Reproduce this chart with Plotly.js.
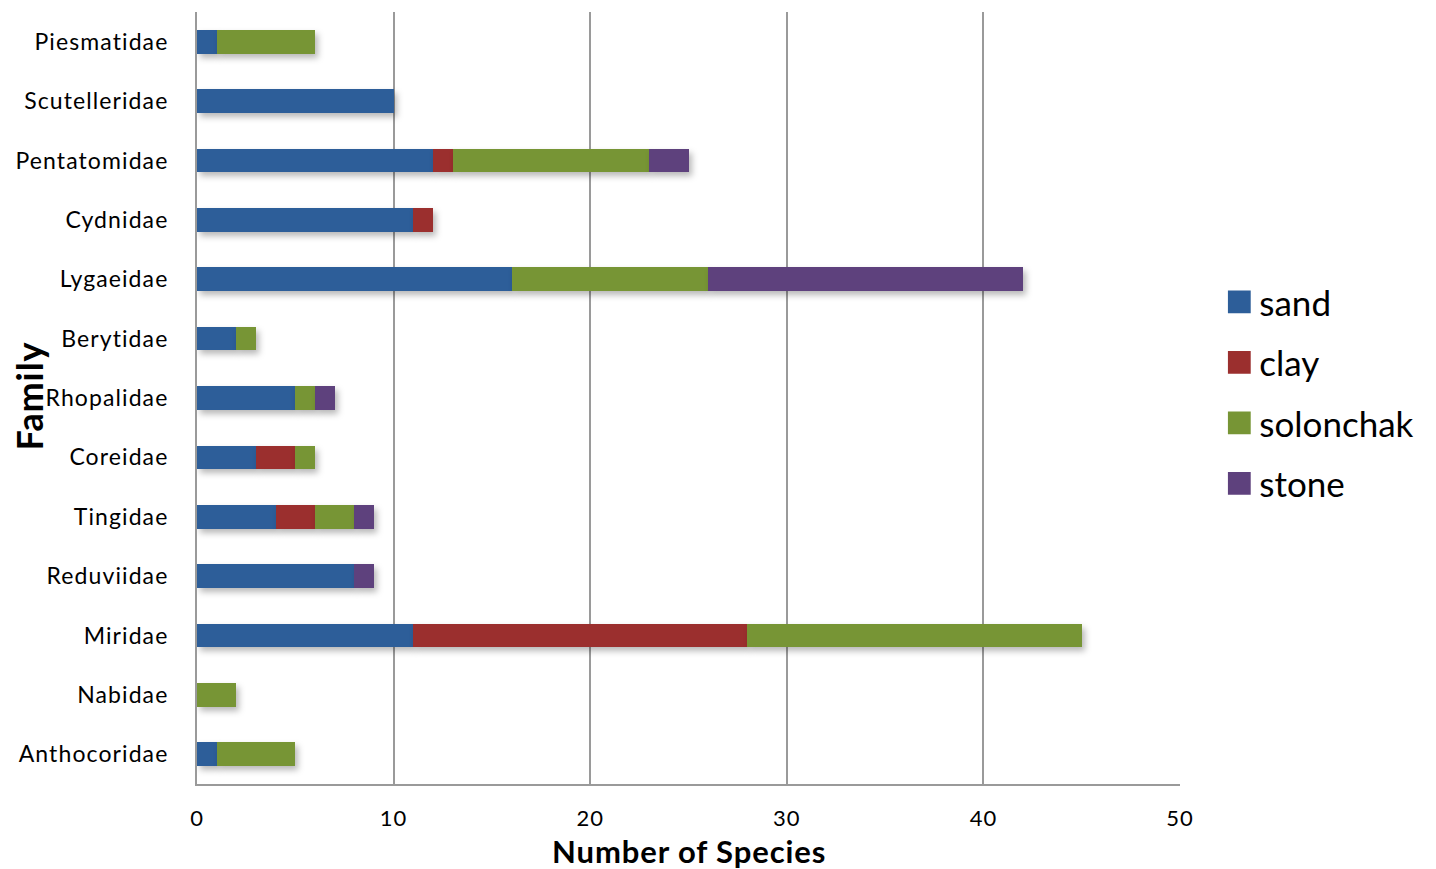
<!DOCTYPE html>
<html>
<head>
<meta charset="utf-8">
<script src="https://cdn.plot.ly/plotly-3.0.1.min.js"></script>
<style>
  html, body { margin: 0; padding: 0; background: #fff; }
  #chart { width: 1436px; height: 869px; }
  .barlayer .point path { filter: drop-shadow(3px 4px 3px rgba(0,0,0,0.28)); }
  .ytick text { letter-spacing: 1.1px; }
  .xtick text { letter-spacing: 1px; }
  .annotation-text { letter-spacing: 0.9px; }
</style>
</head>
<body>
<div id="chart"></div>
<script>
// Heteroptera families, listed top to bottom
const families = ["Piesmatidae", "Scutelleridae", "Pentatomidae", "Cydnidae", "Lygaeidae",
  "Berytidae", "Rhopalidae", "Coreidae", "Tingidae", "Reduviidae", "Miridae", "Nabidae", "Anthocoridae"];

// Number of species per soil type
const sand      = [1, 10, 12, 11, 16, 2, 5, 3, 4, 8, 11, 0, 1];
const clay      = [0, 0, 1, 1, 0, 0, 0, 2, 2, 0, 17, 0, 0];
const solonchak = [5, 0, 10, 0, 10, 1, 1, 1, 2, 0, 17, 2, 4];
const stone     = [0, 0, 2, 0, 16, 0, 1, 0, 1, 1, 0, 0, 0];

const xTicks = [0, 10, 20, 30, 40, 50];

const FONT = "Lato, 'Open Sans', sans-serif";

function series(name, values, color) {
  return {
    type: "bar", orientation: "h", name: name, legendgroup: name,
    y: families, x: values,
    marker: { color: color, line: { width: 0 } },
    hoverinfo: "name+x"
  };
}

const data = [
  series("sand", sand, "#2D5E99"),
  series("clay", clay, "#9B2F2E"),
  series("solonchak", solonchak, "#779535"),
  series("stone", stone, "#5E417D")
];

const layout = {
  width: 1436, height: 869,
  margin: { l: 197, r: 256, t: 12, b: 85, pad: 0 },
  paper_bgcolor: "#fff", plot_bgcolor: "#fff",
  barmode: "stack", bargap: 0.6,
  font: { family: FONT, color: "#000" },
  xaxis: {
    range: [0, 50], tickvals: xTicks, ticktext: xTicks.map(String),
    showgrid: true, gridcolor: "#9a9a9a", gridwidth: 2,
    showline: true, linecolor: "#9a9a9a", linewidth: 2, mirror: false,
    zeroline: false, ticks: "", ticklabelstandoff: 14,
    tickfont: { size: 22, family: FONT, color: "#000" },
    fixedrange: true
  },
  yaxis: {
    autorange: "reversed", type: "category",
    showgrid: false, showline: true, linecolor: "#9a9a9a", linewidth: 2,
    zeroline: false, ticks: "", ticklabelstandoff: 22,
    tickfont: { size: 23, family: FONT, color: "#000" },
    fixedrange: true
  },
  legend: {
    x: 1.04, xanchor: "left", y: 0.507, yanchor: "middle",
    traceorder: "grouped", tracegroupgap: 12,
    font: { size: 35, family: FONT, color: "#000" },
    bgcolor: "rgba(0,0,0,0)", itemwidth: 30
  },
  annotations: [
    { text: "<b>Number of Species</b>", xref: "paper", yref: "paper", x: 0.5, y: 0,
      xanchor: "center", yanchor: "middle", yshift: -67, showarrow: false,
      font: { size: 31, family: FONT, color: "#000" } },
    { text: "<b>Family</b>", xref: "paper", yref: "paper", x: 0, y: 0.502,
      xanchor: "center", yanchor: "middle", xshift: -168, showarrow: false, textangle: -90,
      font: { size: 36, family: FONT, color: "#000" } }
  ],
  showlegend: true
};

Plotly.newPlot("chart", data, layout, { displayModeBar: false, staticPlot: true }).then(function (gd) {
  // enlarge the legend colour swatches to square blocks
  gd.querySelectorAll(".legend .legendpoints path").forEach(function (p) {
    const t = p.getAttribute("transform") || "";
    p.setAttribute("transform", t + " scale(1.9)");
  });
});
</script>
</body>
</html>
